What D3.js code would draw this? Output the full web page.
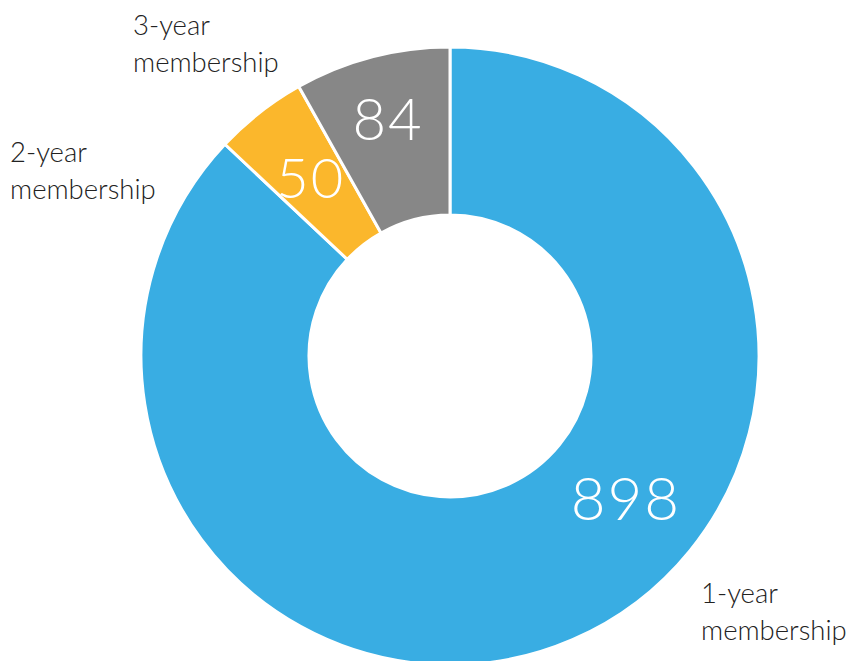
<!DOCTYPE html>
<html><head><meta charset="utf-8">
<script src="https://cdn.jsdelivr.net/npm/d3@7"></script>
<style>body{margin:0;background:#fff}svg{display:block}</style>
</head><body>
<svg id="chart" width="846" height="661"></svg>
<script>
const categories = ["1-year", "2-year", "3-year"];
const values = [898, 50, 84];
const colors = ["#39ADE3", "#FBB72C", "#878787"];
const outerLabels = [["1-year", "membership"], ["2-year", "membership"], ["3-year", "membership"]];

const svg = d3.select("#chart");
const cx = 450, cy = 356, R = 309, r = 141;
const g = svg.append("g").attr("transform", `translate(${cx},${cy})`);
const data = categories.map((c, i) => ({cat: c, value: values[i], color: colors[i], lab: outerLabels[i]}));
const pie = d3.pie().value(d => d.value).sort(null);
const arcs = pie(data);
const arc = d3.arc().innerRadius(r).outerRadius(R);

g.selectAll("path").data(arcs).join("path")
  .attr("d", arc).attr("fill", d => d.data.color)
  .attr("stroke", "#fff").attr("stroke-width", 3);

const font = "Lato, 'Open Sans', sans-serif";
const valSize = [60, 56, 58];
const valRadius = [226, 226, 245];
g.selectAll("text.val").data(arcs).join("text").attr("class", "val")
  .attr("transform", (d, i) => {
    const angMid = (d.startAngle + d.endAngle) / 2;
    const a = i === 0 ? 2.25 : angMid;
    const rr = valRadius[i];
    return `translate(${rr * Math.sin(a)},${-rr * Math.cos(a)})`;
  })
  .attr("text-anchor", "middle").attr("dy", "0.36em")
  .attr("font-family", font).attr("font-weight", 300)
  .attr("font-size", (d, i) => valSize[i]).attr("fill", "#fff")
  .attr("letter-spacing", 2)
  .text(d => d.data.value);

// outer labels
const labelPos = [[701, 603], [10, 162], [133, 35]];
data.forEach((d, i) => {
  const t = svg.append("text").attr("x", labelPos[i][0]).attr("y", labelPos[i][1])
    .attr("font-family", font).attr("font-weight", 300).attr("font-size", 27.5).attr("fill", "#222");
  d.lab.forEach((line, j) => t.append("tspan").attr("x", labelPos[i][0]).attr("dy", j ? 37 : 0).text(line));
});
</script>
</body></html>
